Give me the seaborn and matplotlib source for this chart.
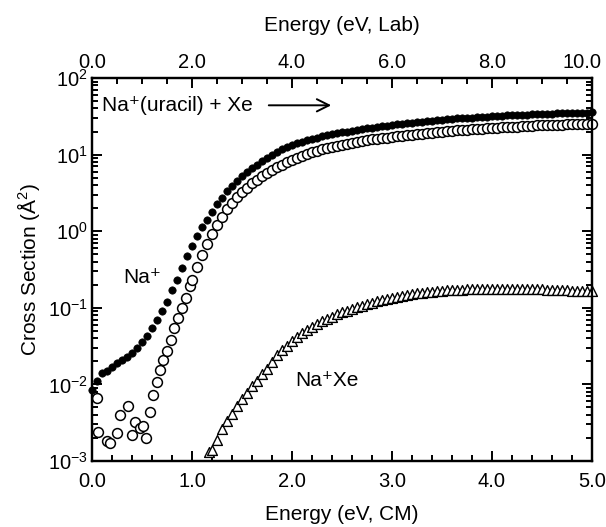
import matplotlib

matplotlib.use("Agg")

import matplotlib.pyplot as plt
import matplotlib.transforms as mtransforms
import numpy as np
import pandas as pd
import seaborn as sns
from matplotlib.ticker import FormatStrFormatter, LogLocator, MultipleLocator, NullFormatter

# collision energy grid (eV, CM)
energy_grid = [
    0.00, 0.05, 0.10, 0.15, 0.20, 0.25, 0.30, 0.35, 0.40, 0.45,
    0.50, 0.55, 0.60, 0.65, 0.70, 0.75, 0.80, 0.85, 0.90, 0.95,
    1.00, 1.05, 1.10, 1.15, 1.20, 1.25, 1.30, 1.35, 1.40, 1.45,
    1.50, 1.55, 1.60, 1.65, 1.70, 1.75, 1.80, 1.85, 1.90, 1.95,
    2.00, 2.05, 2.10, 2.15, 2.20, 2.25, 2.30, 2.35, 2.40, 2.45,
    2.50, 2.55, 2.60, 2.65, 2.70, 2.75, 2.80, 2.85, 2.90, 2.95,
    3.00, 3.05, 3.10, 3.15, 3.20, 3.25, 3.30, 3.35, 3.40, 3.45,
    3.50, 3.55, 3.60, 3.65, 3.70, 3.75, 3.80, 3.85, 3.90, 3.95,
    4.00, 4.05, 4.10, 4.15, 4.20, 4.25, 4.30, 4.35, 4.40, 4.45,
    4.50, 4.55, 4.60, 4.65, 4.70, 4.75, 4.80, 4.85, 4.90, 4.95,
    5.00,
]

# filled circles: total Na+ (0.00 .. 5.00)
total_na = [
    0.0085, 0.011, 0.014, 0.015, 0.017, 0.019, 0.021, 0.023, 0.026, 0.030,
    0.036, 0.043, 0.055, 0.070, 0.090, 0.12, 0.17, 0.23, 0.33, 0.47,
    0.64, 0.86, 1.12, 1.42, 1.8, 2.25, 2.75, 3.3, 3.9, 4.5,
    5.2, 5.9, 6.6, 7.4, 8.2, 9.0, 9.9, 10.9, 11.8, 12.6,
    13.4, 14.1, 14.8, 15.5, 16.1, 16.7, 17.3, 17.9, 18.5, 19.0,
    19.5, 20.0, 20.5, 21.0, 21.5, 22.0, 22.5, 23.0, 23.5, 23.9,
    24.4, 24.9, 25.4, 25.8, 26.2, 26.6, 27.0, 27.4, 27.8, 28.2,
    28.6, 29.0, 29.3, 29.6, 29.9, 30.2, 30.5, 30.8, 31.1, 31.4,
    31.7, 32.0, 32.2, 32.4, 32.6, 32.8, 33.0, 33.2, 33.4, 33.6,
    33.8, 34.0, 34.2, 34.4, 34.6, 34.8, 35.0, 35.2, 35.3, 35.4,
    35.5,
]

# open circles: Na+ (low-energy scatter, then grid from 1.00)
na_low_x = [
    0.05, 0.06, 0.15, 0.18, 0.25, 0.28, 0.36, 0.40, 0.43, 0.48, 0.51, 0.54,
    0.58, 0.61, 0.65, 0.68, 0.71, 0.75, 0.79, 0.82, 0.86, 0.90, 0.94, 0.98,
]
na_low_y = [
    0.0066, 0.0024, 0.0018, 0.0017, 0.0023, 0.0040, 0.0052, 0.0022, 0.0032,
    0.0027, 0.0029, 0.0020, 0.0044, 0.0072, 0.0107, 0.0155, 0.021, 0.027,
    0.038, 0.055, 0.074, 0.10, 0.134, 0.19,
]
na_high_y = [
    0.23, 0.34, 0.49, 0.68, 0.92, 1.2, 1.55, 1.95, 2.35, 2.8,
    3.25, 3.7, 4.2, 4.7, 5.2, 5.75, 6.3, 6.85, 7.4, 8.0,
    8.6, 9.15, 9.7, 10.2, 10.7, 11.2, 11.7, 12.2, 12.6, 13.0,
    13.4, 13.8, 14.2, 14.6, 15.0, 15.4, 15.8, 16.1, 16.4, 16.7,
    17.0, 17.3, 17.6, 17.9, 18.2, 18.5, 18.8, 19.1, 19.4, 19.7,
    20.0, 20.3, 20.6, 20.8, 21.0, 21.2, 21.4, 21.6, 21.8, 22.0,
    22.2, 22.4, 22.6, 22.8, 23.0, 23.2, 23.4, 23.6, 23.8, 24.0,
    24.2, 24.4, 24.5, 24.6, 24.7, 24.8, 24.9, 25.0, 25.1, 25.2,
    25.4,
]

# open triangles: Na+Xe (1.17, then grid from 1.20)
naxe_first_x = [1.17]
naxe_first_y = [0.0013]
naxe_y = [
    0.0014, 0.0019, 0.0026, 0.0033, 0.0041, 0.0052, 0.0064, 0.0078, 0.0094, 0.0112,
    0.0135, 0.0160, 0.0195, 0.024, 0.028, 0.032, 0.037, 0.042, 0.047, 0.052,
    0.057, 0.062, 0.067, 0.072, 0.077, 0.082, 0.087, 0.092, 0.097, 0.102,
    0.107, 0.112, 0.117, 0.122, 0.126, 0.130, 0.134, 0.138, 0.142, 0.146,
    0.150, 0.154, 0.157, 0.160, 0.163, 0.165, 0.167, 0.169, 0.171, 0.172,
    0.173, 0.174, 0.175, 0.176, 0.176, 0.177, 0.177, 0.177, 0.177, 0.177,
    0.176, 0.176, 0.176, 0.175, 0.175, 0.174, 0.174, 0.173, 0.172, 0.171,
    0.170, 0.169, 0.168, 0.167, 0.166, 0.165, 0.164,
]

df_total = pd.DataFrame({"energy": energy_grid, "sigma": total_na})
df_na = pd.DataFrame({
    "energy": na_low_x + energy_grid[20:],
    "sigma": na_low_y + na_high_y,
})
df_naxe = pd.DataFrame({
    "energy": naxe_first_x + energy_grid[24:],
    "sigma": naxe_first_y + naxe_y,
})

sns.set_style("ticks")
plt.rcParams["font.family"] = ["Liberation Sans", "DejaVu Sans"]
plt.rcParams["mathtext.default"] = "regular"
plt.rcParams["axes.unicode_minus"] = False
plt.rcParams["axes.linewidth"] = 1.6
for key in ("text.color", "axes.labelcolor", "xtick.color", "ytick.color", "axes.edgecolor"):
    plt.rcParams[key] = "black"

FS = 15
TFS = 14.5

fig = plt.figure(figsize=(6.06, 5.27), dpi=100)
ax = fig.add_axes([0.1518, 0.1252, 0.8251, 0.7268])

sns.scatterplot(data=df_na, x="energy", y="sigma", ax=ax, marker="o", s=50,
                facecolor="white", edgecolor="black", linewidth=1.1,
                clip_on=False, zorder=3)
sns.scatterplot(data=df_total, x="energy", y="sigma", ax=ax, marker="o", s=28,
                color="black", edgecolor="black", linewidth=0.5,
                clip_on=False, zorder=4)
sns.scatterplot(data=df_naxe, x="energy", y="sigma", ax=ax, marker="^", s=50,
                facecolor="white", edgecolor="black", linewidth=1.0,
                clip_on=False, zorder=3)

ax.set_yscale("log")
ax.set_xlim(0, 5)
ax.set_ylim(1e-3, 1e2)
ax.set_xlabel("Energy (eV, CM)", fontsize=FS, labelpad=10)
ax.set_ylabel("Cross Section (Å$^2$)", fontsize=FS, labelpad=4)

ax.xaxis.set_major_locator(MultipleLocator(1.0))
ax.xaxis.set_minor_locator(MultipleLocator(0.2))
ax.xaxis.set_major_formatter(FormatStrFormatter("%.1f"))
ax.yaxis.set_major_locator(LogLocator(base=10, numticks=10))
ax.yaxis.set_minor_locator(LogLocator(base=10, subs=np.arange(2, 10), numticks=10))
ax.yaxis.set_minor_formatter(NullFormatter())
ax.tick_params(which="both", direction="in", right=True, top=False,
               labelsize=TFS, width=1.4)
ax.tick_params(axis="x", pad=8)
ax.tick_params(axis="y", pad=3)
ax.tick_params(which="major", length=7)
ax.tick_params(which="minor", length=4)

ax_top = ax.twiny()
ax_top.set_xlim(0, 10)
ax_top.xaxis.set_major_locator(MultipleLocator(2.0))
ax_top.xaxis.set_minor_locator(MultipleLocator(0.5))
ax_top.xaxis.set_major_formatter(FormatStrFormatter("%.1f"))
ax_top.set_xlabel("Energy (eV, Lab)", fontsize=FS, labelpad=16)
ax_top.tick_params(which="both", direction="in", labelsize=TFS, width=1.4, pad=4)
ax_top.tick_params(which="major", length=7)
ax_top.tick_params(which="minor", length=4)

# last top label sits just inside the figure edge, as in the source figure
fig.canvas.draw()
shift = mtransforms.ScaledTranslation(-7 / 72, 0, fig.dpi_scale_trans)
for lbl in ax_top.get_xticklabels():
    if lbl.get_text() == "10.0":
        lbl.set_transform(lbl.get_transform() + shift)

ax.text(0.10, 44, "Na⁺(uracil) + Xe", fontsize=FS, va="center", ha="left")
ax.annotate("", xy=(2.42, 44), xytext=(1.74, 44),
            arrowprops=dict(arrowstyle="->", lw=1.4, color="black",
                            mutation_scale=22))
ax.text(0.31, 0.25, "Na⁺", fontsize=FS, va="center", ha="left")
ax.text(2.03, 0.0114, "Na⁺Xe", fontsize=FS, va="center", ha="left")

fig.savefig("out.png", dpi=100)
